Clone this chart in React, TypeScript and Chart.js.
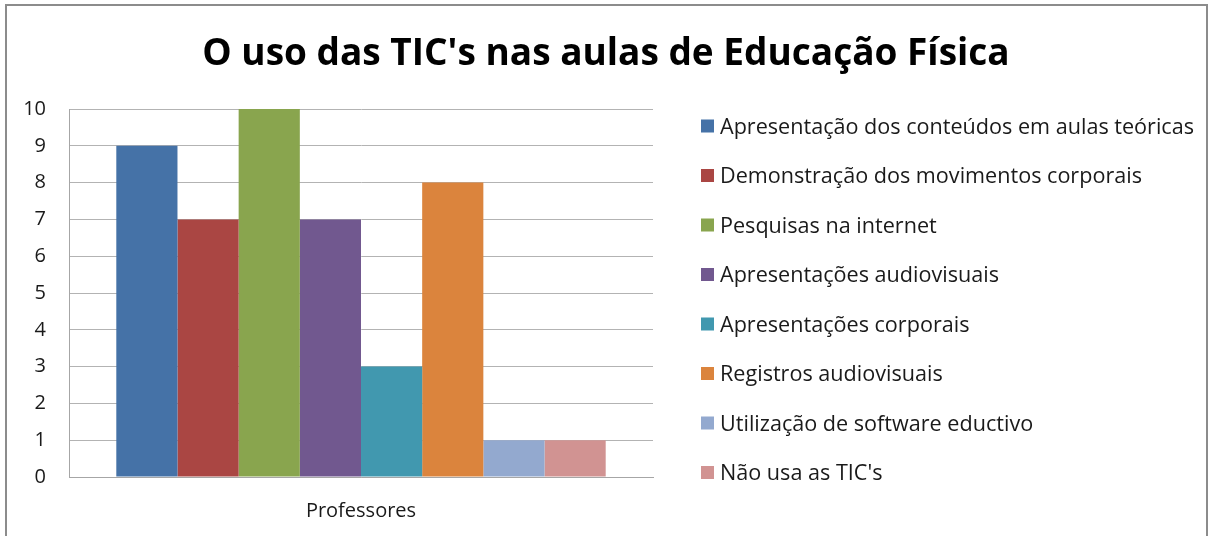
import React, { useEffect, useRef } from "react";
import { Chart, registerables } from "chart.js";

Chart.register(...registerables);

const categories = ["Professores"];
const seriesLabels = [
  "Apresentação dos conteúdos em aulas teóricas",
  "Demonstração dos movimentos corporais",
  "Pesquisas na internet",
  "Apresentações audiovisuais",
  "Apresentações corporais",
  "Registros audiovisuais",
  "Utilização de software eductivo",
  "Não usa as TIC's",
];
const seriesValues = [9, 7, 10, 7, 3, 8, 1, 1];
const seriesColors = [
  "#4572A7",
  "#AA4643",
  "#89A54E",
  "#71588F",
  "#4198AF",
  "#DB843D",
  "#93A9CF",
  "#D19392",
];
const yTicks = [0, 1, 2, 3, 4, 5, 6, 7, 8, 9, 10];
const titleText = "O uso das TIC's nas aulas de Educação Física";

const FONT = "'Open Sans', 'Noto Sans', sans-serif";
const TEXT = "#1a1a1a";

const framePlugin = {
  id: "frame",
  beforeDraw(chart: any) {
    const { ctx, width, height } = chart;
    ctx.save();
    ctx.fillStyle = "#ffffff";
    ctx.fillRect(0, 0, width, height);
    ctx.strokeStyle = "#8c8c8c";
    ctx.lineWidth = 2;
    ctx.strokeRect(6, 5, width - 11, height + 20);
    ctx.restore();
  },
};

const legendPlugin = {
  id: "sideLegend",
  afterDraw(chart: any) {
    const { ctx, chartArea } = chart;
    const datasets = chart.data.datasets;
    const boxX = chartArea.right + 48;
    const startY = chartArea.top + 17;
    const step = (chartArea.bottom - 4.5 - startY) / (datasets.length - 1);
    ctx.save();
    ctx.font = `21.6px ${FONT}`;
    ctx.textBaseline = "middle";
    ctx.textAlign = "left";
    datasets.forEach((ds: any, i: number) => {
      const y = startY + i * step;
      ctx.fillStyle = ds.backgroundColor;
      ctx.fillRect(boxX, y - 6.5, 13, 13);
      ctx.fillStyle = TEXT;
      ctx.fillText(ds.label, boxX + 19, y + 1.5);
    });
    ctx.restore();
  },
};

export default function App() {
  const canvasRef = useRef<HTMLCanvasElement | null>(null);

  useEffect(() => {
    document.body.style.margin = "0";
    const canvas = canvasRef.current;
    if (!canvas) return;
    const chart = new Chart(canvas, {
      type: "bar",
      data: {
        labels: categories,
        datasets: seriesLabels.map((label, i) => ({
          label,
          data: [seriesValues[i]],
          backgroundColor: seriesColors[i],
          borderWidth: 0,
          categoryPercentage: 0.838,
          barPercentage: 1,
          yAxisID: "y",
        })),
      },
      options: {
        animation: false,
        responsive: false,
        devicePixelRatio: 1,
        layout: { padding: 0 },
        plugins: {
          legend: { display: false },
          tooltip: { enabled: false },
          title: {
            display: true,
            text: titleText,
            color: "#000000",
            font: { family: FONT, size: 37, weight: "bold" },
            padding: { top: 32, bottom: 32.6 },
          },
        },
        scales: {
          x: {
            grid: { display: false, drawTicks: false },
            border: { display: true, color: "#a6a6a6", width: 1 },
            ticks: {
              color: TEXT,
              font: { family: FONT, size: 20 },
              padding: 22,
            },
            afterFit: (scale: any) => {
              scale.height = 59;
            },
          },
          y: {
            min: 0,
            max: 10,
            afterBuildTicks: (scale: any) => {
              scale.ticks = yTicks.map((v) => ({ value: v }));
            },
            grid: { color: "#b3b3b3", lineWidth: 1, drawTicks: false },
            border: { display: true, color: "#a6a6a6", width: 1 },
            ticks: {
              color: TEXT,
              font: { family: FONT, size: 20 },
              padding: 23,
            },
            afterFit: (scale: any) => {
              scale.width = 69;
            },
          },
          legendSpace: {
            type: "linear",
            axis: "y",
            position: "right",
            display: true,
            grid: { display: false, drawTicks: false },
            border: { display: false },
            ticks: { display: false },
            afterFit: (scale: any) => {
              scale.width = 559;
            },
          },
        },
      },
      plugins: [framePlugin, legendPlugin],
    });
    return () => chart.destroy();
  }, []);

  return <canvas ref={canvasRef} width={1212} height={536} style={{ display: "block" }} />;
}
